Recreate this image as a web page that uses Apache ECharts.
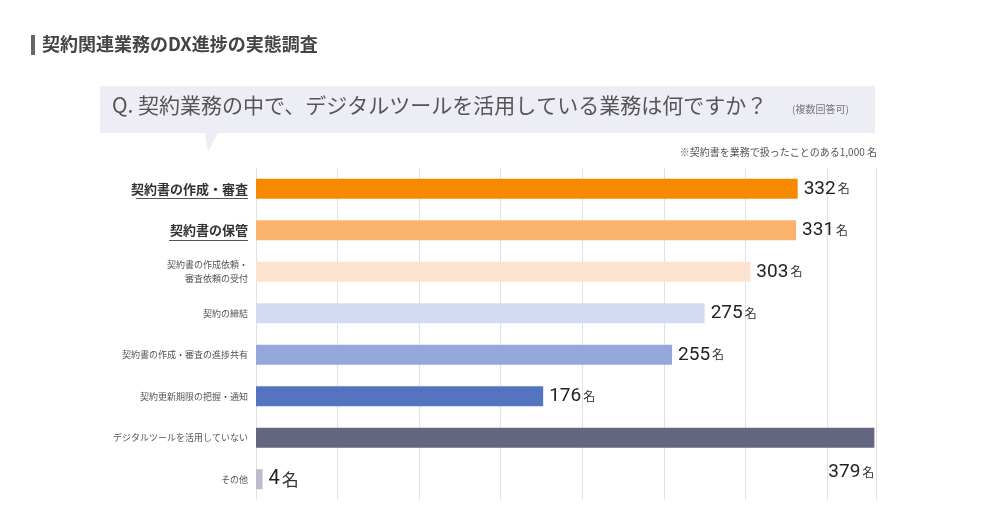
<!doctype html>
<html lang="ja" style="height:100%">
<head>
  <meta charset="utf-8" />
  <script src="https://cdn.jsdelivr.net/npm/echarts@6/dist/echarts.min.js"></script>
</head>
<body style="height:100%;margin:0;background:#fff">
  <div id="main" style="width:1000px;height:532px"></div>
  <script>
    // categories top to bottom
    var categories = ['契約書の作成・審査', '契約書の保管', '契約書の作成依頼・\n審査依頼の受付', '契約の締結',
      '契約書の作成・審査の進捗共有', '契約更新期限の把握・通知', 'デジタルツールを活用していない', 'その他'];
    var values = [332, 331, 303, 275, 255, 176, 379, 4];
    var colors = ['#f68b00', '#fbb26c', '#fde3cf', '#d3dbf2', '#94a8db', '#5473c1', '#646680', '#b9bdcb'];

    var chart = echarts.init(document.getElementById('main'));
    var font = '"Noto Sans CJK JP", "Noto Sans", sans-serif';
    var numFont = '"Liberation Sans Narrow", Roboto, sans-serif';

    var data = values.map(function (v, i) {
      var item = { value: v, itemStyle: { color: colors[i] } };
      if (i === 6) {
        item.label = { position: 'insideBottomRight', offset: [0, 34], distance: 0 };
      }
      if (i === 7) {
        item.label = { formatter: '{n|4}{u|名}', rich: { n: { fontSize: 20, fontFamily: numFont, color: '#222' }, u: { fontSize: 17, color: '#333', padding: [0, 0, 0, 2] } } };
      }
      return item;
    });

    chart.setOption({
      animation: false,
      textStyle: { fontFamily: font },
      graphic: [
        { type: 'rect', shape: { x: 31, y: 35, width: 4, height: 20 }, style: { fill: '#666' } },
        { type: 'text', x: 42, y: 35, style: { text: '契約関連業務のDX進捗の実態調査', font: 'bold 18px ' + font, fill: '#444' } },
        { type: 'polygon', shape: { points: [[100, 86], [875, 86], [875, 133], [218, 133], [208, 152], [205, 133], [100, 133]] },
          style: { fill: '#ededf5' } },
        { type: 'text', x: 112, y: 95, style: { text: 'Q. 契約業務の中で、デジタルツールを活用している業務は何ですか？', font: '21px ' + font, fill: '#555' } },
        { type: 'text', x: 792, y: 104, style: { text: '(複数回答可)', font: '10px ' + font, fill: '#777' } },
        { type: 'text', x: 877, y: 147, style: { text: '※契約書を業務で扱ったことのある1,000 名', font: '10px ' + font, fill: '#555', align: 'right' } },
        { type: 'rect', shape: { x: 136, y: 198, width: 112, height: 1 }, style: { fill: '#555' } },
        { type: 'rect', shape: { x: 169, y: 240, width: 79, height: 1 }, style: { fill: '#555' } }
      ],
      grid: { left: 256, right: 124, top: 168, bottom: 32 },
      xAxis: {
        type: 'value', min: 0, max: 380, interval: 50,
        axisLabel: { show: false }, axisLine: { show: false }, axisTick: { show: false },
        splitLine: { lineStyle: { color: '#dfe0e8' } }
      },
      yAxis: {
        type: 'category', inverse: true, data: categories,
        axisLine: { show: false }, axisTick: { show: false },
        axisLabel: {
          margin: 8, color: '#555', fontSize: 9, lineHeight: 14,
          formatter: function (v, i) { return i < 2 ? '{b|' + v + '}' : v; },
          rich: { b: { fontSize: 13, fontWeight: 'bold', color: '#333' } }
        }
      },
      series: [{
        type: 'bar', barWidth: 20, data: data,
        label: {
          show: true, position: 'right', distance: 6,
          formatter: function (p) { return '{n|' + p.value + '}{u|名}'; },
          rich: {
            n: { fontSize: 19, color: '#222', fontFamily: numFont },
            u: { fontSize: 12, color: '#333', padding: [0, 0, 0, 2] }
          }
        }
      }]
    });
  </script>
</body>
</html>
